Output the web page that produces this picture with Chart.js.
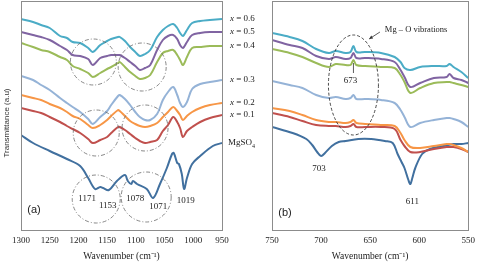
<!DOCTYPE html>
<html>
<head>
<meta charset="utf-8">
<script src="https://cdn.jsdelivr.net/npm/chart.js@4.4.1/dist/chart.umd.min.js"></script>
<style>
  html, body { margin: 0; padding: 0; background: #fff; }
  #wrap { position: relative; width: 480px; height: 262px; overflow: hidden; }
  #wrapA { position: absolute; left: 0; top: 0; width: 270px; height: 262px; }
  #wrapB { position: absolute; left: 240px; top: 0; width: 240px; height: 262px; }
</style>
</head>
<body>
<div id="wrap">
  <div id="wrapA"><canvas id="chartA"></canvas></div>
  <div id="wrapB"><canvas id="chartB"></canvas></div>
</div>
<script>
// noms des courbes (de haut en bas)
var seriesNames = ['x = 0.6', 'x = 0.5', 'x = 0.4', 'x = 0.3', 'x = 0.2', 'x = 0.1', 'MgSO4'];
var xTicksA = [1300, 1250, 1200, 1150, 1100, 1050, 1000, 950];
var xTicksB = [750, 700, 650, 600, 550];

// panneau (a) : nombre d'onde (cm-1) et transmittance (u.a.)
var wnA = [1300, 1279, 1265, 1250, 1232, 1220, 1210, 1197, 1183, 1175, 1162, 1150, 1143, 1131, 1128, 1119, 1110, 1101, 1093, 1084, 1075, 1063, 1053, 1044, 1035, 1028, 1023, 1018, 1011, 1002, 988, 971, 950];
var a06 = [211, 208, 205, 202, 194, 192, 188, 187, 182, 178, 185, 189, 191, 193, 193, 189, 183, 178, 174, 176, 180, 193, 200, 204, 206, 202, 197, 194, 200, 207, 209, 210, 211];
var a05 = [198, 195, 193, 190, 184, 180, 175, 174, 171, 165, 172, 174, 175, 175, 175, 172, 168, 164, 160, 162, 165, 180, 190, 194, 195, 191, 185, 182, 188, 195, 197, 198, 198];
var a04 = [187, 183, 180, 178, 173, 170, 164, 161, 157, 153, 157, 161, 163, 167, 168, 163, 158, 154, 151, 152, 155, 168, 177, 179, 180, 175, 170, 165, 173, 182, 183, 184, 184];
var a03 = [154, 150, 145, 140, 132, 127, 123, 118, 111, 106, 113, 119, 125, 134, 135, 131, 125, 118, 113, 110, 110, 116, 130, 138, 143, 135, 127, 123, 128, 141, 146, 148, 150];
var a02 = [135, 132, 130, 126, 122, 118, 114, 111, 105, 102, 105, 110, 114, 120, 119, 114, 109, 106, 104, 103, 104, 107, 113, 118, 123, 119, 115, 110, 114, 118, 122, 125, 127];
var a01 = [122, 119, 117, 113, 108, 104, 101, 97, 91, 87, 90, 93, 97, 103, 103, 100, 96, 92, 89, 87, 88, 90, 99, 105, 113, 108, 102, 93, 99, 103, 108, 112, 115];
var wnMgA = [1300, 1279, 1250, 1220, 1197, 1183, 1171, 1162, 1157, 1147, 1133, 1119, 1114, 1108, 1105, 1098, 1081, 1070, 1058, 1046, 1037, 1034, 1028, 1025, 1020, 1016, 1011, 1002, 988, 966, 950];
var mgA = [95, 87, 79, 71, 64, 52, 41, 43, 42, 40, 49, 55, 49, 46, 49, 46, 41, 32, 46, 62, 76, 77, 67, 66, 56, 41, 52, 66, 74, 84, 87];

// panneau (b)
var wnB = [750, 732, 719, 705, 692, 685, 675, 670, 667, 664, 655, 639, 625, 619, 615, 609, 599, 585, 572, 569, 565, 557, 550];
var b06 = [197, 193, 189, 181, 177, 179, 177, 178, 184, 178, 178, 177, 173, 168, 162, 160, 163, 164, 164, 166, 163, 158, 152];
var b05 = [190, 185, 182, 174, 171, 173, 171, 172, 177, 172, 172, 171, 168, 160, 153, 143, 147, 152, 153, 156, 152, 150, 147];
var b04 = [181, 177, 173, 167, 163, 166, 165, 165, 170, 165, 164, 163, 162, 155, 148, 137, 142, 147, 148, 148, 147, 145, 143];
var b03 = [149, 145, 142, 135, 132, 133, 131, 132, 135, 131, 131, 130, 127, 120, 113, 103, 107, 110, 112, 112, 111, 108, 103];
var b02 = [122, 119, 115, 110, 108, 108, 107, 108, 110, 107, 106, 105, 104, 97, 90, 83, 82, 84, 86, 86, 85, 82, 78];
var b01 = [117, 113, 109, 105, 104, 104, 103, 104, 106, 103, 103, 103, 101, 90, 84, 78, 78, 81, 83, 83, 83, 81, 78];
var wnMgB = [750, 729, 715, 709, 704, 700, 696, 689, 682, 675, 662, 649, 635, 627, 622, 618, 615, 611, 609, 607, 604, 597, 589, 575, 565, 557, 550];
var mgB = [103, 97, 91, 85, 78, 74, 77, 84, 88, 89, 91, 91, 89, 87, 76, 68, 62, 50, 46, 52, 62, 76, 81, 84, 86, 86, 87];

var couleurs = ['#4bacc6', '#8064a2', '#9bbb59', '#95b3d7', '#f79646', '#c0504d', '#41709f'];
var serif = '"Liberation Serif", "Times New Roman", serif';
var sans = '"Liberation Sans", Arial, sans-serif';

function points(xs, ys) {
    return xs.map(function (x, i) { return { x: x, y: ys[i] }; });
}

function datasets(wn, series, wnMg, mg) {
    var list = series.map(function (s, i) {
        return { label: seriesNames[i], data: points(wn, s) };
    });
    list.push({ label: seriesNames[6], data: points(wnMg, mg) });
    return list.map(function (d, i) {
        d.borderColor = couleurs[i];
        d.borderWidth = 2;
        d.pointRadius = 0;
        d.tension = 0.35;
        d.fill = false;
        return d;
    });
}

// cadre gris autour de la zone de tracé
var cadre = {
    id: 'cadre',
    afterDatasetsDraw: function (chart) {
        var a = chart.chartArea, ctx = chart.ctx;
        ctx.save();
        ctx.strokeStyle = '#8c8c8c';
        ctx.lineWidth = 1;
        ctx.strokeRect(Math.round(a.left) + 0.5, Math.round(a.top) + 0.5, Math.round(a.right - a.left), Math.round(a.bottom - a.top));
        ctx.restore();
    }
};

function texte(ctx, t, x, y, font, align) {
    ctx.font = font;
    ctx.textAlign = align || 'center';
    ctx.textBaseline = 'middle';
    ctx.fillText(t, x, y);
}

// annotations panneau (a)
var annotA = {
    id: 'annotA',
    afterDraw: function (chart) {
        var ctx = chart.ctx, xs = chart.scales.x, ys = chart.scales.y, area = chart.chartArea;
        var px = function (w) { return xs.getPixelForValue(w); };
        var py = function (t) { return ys.getPixelForValue(t); };
        ctx.save();
        ctx.strokeStyle = '#6a6a6a';
        ctx.lineWidth = 0.8;
        ctx.setLineDash([4, 2, 1, 2]);
        [[1174, 168, 23], [1089, 163, 24], [1169, 97, 23], [1084, 102, 23], [1169, 31, 24], [1082, 33, 25]].forEach(function (c) {
            ctx.beginPath();
            ctx.arc(px(c[0]), py(c[1]), c[2], 0, Math.PI * 2);
            ctx.stroke();
        });
        ctx.setLineDash([]);
        ctx.fillStyle = '#222';
        var f = '9px ' + serif;
        texte(ctx, '1171', px(1185), py(31), f);
        texte(ctx, '1153', px(1149), py(24), f);
        texte(ctx, '1078', px(1101), py(31), f);
        texte(ctx, '1071', px(1061), py(23), f);
        texte(ctx, '1019', px(1013), py(29), f);
        texte(ctx, '(a)', area.left + 13, area.bottom - 20, '11px ' + sans);

        // titre vertical
        ctx.save();
        ctx.translate(7, 123);
        ctx.rotate(-Math.PI / 2);
        ctx.fillStyle = '#333';
        texte(ctx, 'Transmittance (a.u)', 0, 0, '8px ' + sans);
        ctx.restore();

        // étiquettes des courbes à droite
        var x0 = area.right + 8;
        chart.data.datasets.forEach(function (ds) {
            var y = py(ds.data[ds.data.length - 1].y);
            if (ds.label.charAt(0) === 'x') {
                texte(ctx, 'x', x0, y, 'italic 9px ' + serif, 'left');
                var w = ctx.measureText('x').width;
                texte(ctx, ds.label.slice(1), x0 + w, y, '9px ' + serif, 'left');
            } else {
                texte(ctx, 'MgSO', x0 - 2, y, '9px ' + serif, 'left');
                var w2 = ctx.measureText('MgSO').width;
                texte(ctx, '4', x0 - 2 + w2, y + 3, '6px ' + serif, 'left');
            }
        });
        ctx.restore();
    }
};

// annotations panneau (b)
var annotB = {
    id: 'annotB',
    afterDraw: function (chart) {
        var ctx = chart.ctx, xs = chart.scales.x, ys = chart.scales.y, area = chart.chartArea;
        var px = function (w) { return xs.getPixelForValue(w); };
        var py = function (t) { return ys.getPixelForValue(t); };
        ctx.save();
        ctx.strokeStyle = '#333';
        ctx.lineWidth = 0.9;
        ctx.setLineDash([3, 2]);
        ctx.beginPath();
        ctx.ellipse(px(667), py(145), 25, 50, 0, 0, Math.PI * 2);
        ctx.stroke();
        ctx.setLineDash([]);

        // petit trait sous le pic 673
        ctx.lineWidth = 0.8;
        ctx.beginPath();
        ctx.moveTo(px(667), py(167));
        ctx.lineTo(px(667), py(157));
        ctx.stroke();

        // flèche Mg-O
        var x1 = px(640), y1 = py(198), x2 = px(651), y2 = py(191);
        ctx.beginPath();
        ctx.moveTo(x1, y1);
        ctx.lineTo(x2, y2);
        ctx.stroke();
        var ang = Math.atan2(y2 - y1, x2 - x1);
        ctx.fillStyle = '#333';
        ctx.beginPath();
        ctx.moveTo(x2, y2);
        ctx.lineTo(x2 - 4 * Math.cos(ang - 0.45), y2 - 4 * Math.sin(ang - 0.45));
        ctx.lineTo(x2 - 4 * Math.cos(ang + 0.45), y2 - 4 * Math.sin(ang + 0.45));
        ctx.closePath();
        ctx.fill();

        ctx.fillStyle = '#222';
        texte(ctx, 'Mg \u2013 O vibrations', px(635), py(200), '8.5px ' + serif, 'left');
        texte(ctx, '673', px(670), py(149), '9px ' + serif);
        texte(ctx, '703', px(702), py(61), '9px ' + serif);
        texte(ctx, '611', px(607), py(28), '9px ' + serif);
        texte(ctx, '(b)', area.left + 13, area.bottom - 17, '11px ' + sans);
        ctx.restore();
    }
};

function options(xmin, xmax, ticks, padding, leftWidth) {
    return {
        responsive: true,
        maintainAspectRatio: false,
        animation: false,
        layout: { padding: padding },
        plugins: { legend: { display: false }, tooltip: { enabled: false } },
        scales: {
            x: {
                type: 'linear',
                min: xmin,
                max: xmax,
                reverse: true,
                afterFit: function (axis) { axis.height = 32; },
                afterBuildTicks: function (axis) {
                    axis.ticks = ticks.map(function (v) { return { value: v }; });
                },
                grid: { display: false, drawTicks: false },
                border: { display: false },
                ticks: {
                    autoSkip: false,
                    maxRotation: 0,
                    padding: 5,
                    color: '#222',
                    font: { family: serif, size: 9 },
                    callback: function (v) { return String(v); }
                },
                title: {
                    display: true,
                    text: 'Wavenumber (cm\u207B\u00B9)',
                    color: '#222',
                    font: { family: serif, size: 9.5 },
                    padding: { top: 0, bottom: 0 }
                }
            },
            y: {
                display: leftWidth > 0,
                min: 0,
                max: 229,
                afterFit: function (axis) { axis.width = leftWidth; },
                grid: { display: false },
                border: { display: false },
                ticks: { display: false }
            }
        }
    };
}

var chartA = new Chart(document.getElementById('chartA').getContext('2d'), {
    type: 'line',
    data: { datasets: datasets(wnA, [a06, a05, a04, a03, a02, a01], wnMgA, mgA) },
    options: options(950, 1300, xTicksA, { left: 0, right: 48, top: 1, bottom: 0 }, 21),
    plugins: [cadre, annotA]
});

var chartB = new Chart(document.getElementById('chartB').getContext('2d'), {
    type: 'line',
    data: { datasets: datasets(wnB, [b06, b05, b04, b03, b02, b01], wnMgB, mgB) },
    options: options(550, 750, xTicksB, { left: 32, right: 8, top: 1, bottom: 0 }, 0),
    plugins: [cadre, annotB]
});
</script>
</body>
</html>
